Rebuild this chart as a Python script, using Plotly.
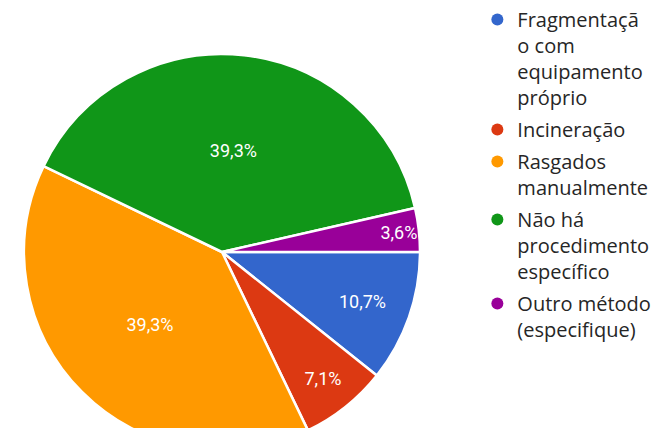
import plotly.graph_objects as go

categories = [
    "Fragmentação com equipamento próprio",
    "Incineração",
    "Rasgados manualmente",
    "Não há procedimento específico",
    "Outro método (especifique)",
]
legend_labels = [
    "Fragmentaçã<br>o com<br>equipamento<br>próprio",
    "Incineração",
    "Rasgados<br>manualmente",
    "Não há<br>procedimento<br>específico",
    "Outro método<br>(especifique)",
]
counts = [3, 2, 11, 11, 1]
colors = ["#3366cc", "#dc3912", "#ff9900", "#109618", "#990099"]

W, H = 663, 460
cx, cy, r = 222, 252, 198

fig = go.Figure()
fig.add_trace(go.Pie(
    labels=categories,
    values=counts,
    sort=False,
    direction="clockwise",
    rotation=90,
    marker=dict(colors=colors, line=dict(color="white", width=2.5)),
    texttemplate="%{percent:.1%}",
    textposition="inside",
    insidetextorientation="horizontal",
    textfont=dict(color="white", size=18, family="Roboto"),
    showlegend=False,
    hoverinfo="label+percent",
    domain=dict(x=[(cx - r) / W, (cx + r) / W], y=[(H - cy - r) / H, (H - cy + r) / H]),
))

for name, col in zip(legend_labels, colors):
    fig.add_trace(go.Scatter(
        x=[None], y=[None], mode="markers", name=name, legendgroup=name,
        marker=dict(color=col, size=15, symbol="circle"),
    ))

fig.update_layout(
    width=W, height=H,
    margin=dict(l=0, r=0, t=0, b=0),
    paper_bgcolor="white", plot_bgcolor="white",
    separators=",.",
    uniformtext=dict(minsize=18, mode="show"),
    xaxis=dict(visible=False), yaxis=dict(visible=False),
    legend=dict(
        x=0.72, y=1.0, xanchor="left", yanchor="top",
        font=dict(family="Open Sans", size=20, color="#262626"),
        tracegroupgap=3, itemsizing="constant", valign="top",
        bgcolor="rgba(0,0,0,0)",
    ),
)

fig.write_html("out.html", config={"displayModeBar": False},
               post_script="document.body.style.overflow='hidden';document.body.style.margin='0';")
